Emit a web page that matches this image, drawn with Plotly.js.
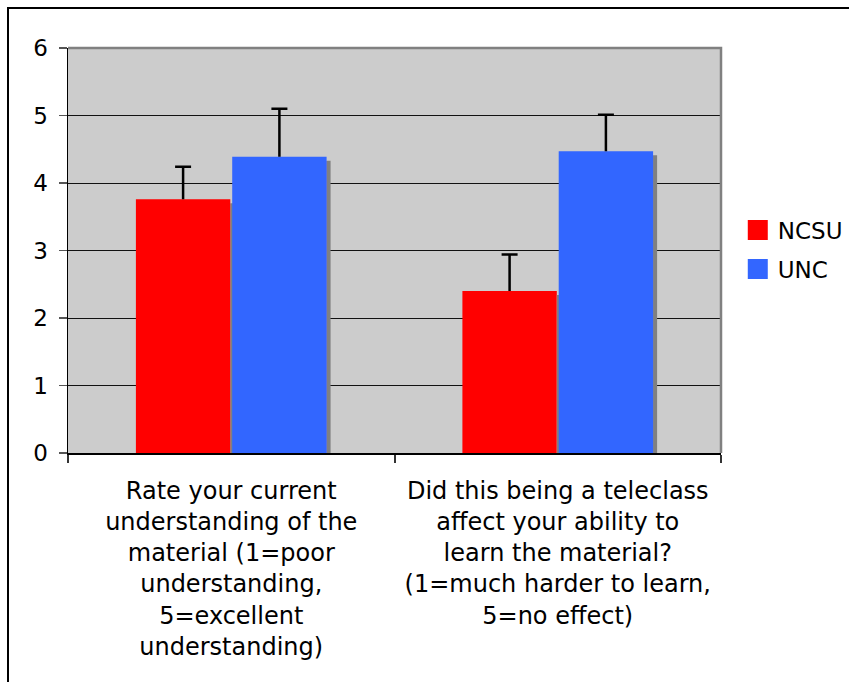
<!DOCTYPE html>
<html>
<head>
<meta charset="utf-8">
<script src="https://cdn.plot.ly/plotly-3.0.1.min.js"></script>
<style>
  html, body { margin:0; padding:0; background:#ffffff; overflow:hidden; }
  #frame { position:absolute; left:7px; top:7px; width:1000px; height:1000px;
           border-left:2px solid #000; border-top:2px solid #000; box-sizing:border-box; }
  #chart { position:absolute; left:0; top:0; width:849px; height:682px; }
</style>
</head>
<body>
<div id="frame"></div>
<div id="chart"></div>
<script>
// ---- data ----
const categories = [
  "Rate your current<br>understanding of the<br>material (1=poor<br>understanding,<br>5=excellent<br>understanding)",
  "Did this being a teleclass<br>affect your ability to<br>learn the material?<br>(1=much harder to learn,<br>5=no effect)"
];
const seriesNames = ["NCSU", "UNC"];
const ncsuValues = [3.76, 2.40];
const ncsuErrors = [0.48, 0.54];
const uncValues  = [4.39, 4.47];
const uncErrors  = [0.71, 0.54];
const yTickVals = [0, 1, 2, 3, 4, 5, 6];

const FONT = "DejaVu Sans, Verdana, sans-serif";

function errObj(arr) {
  return { type:"data", symmetric:false, array:arr, arrayminus:arr.map(()=>0),
           color:"#000000", thickness:2.5, width:8 };
}

const traces = [
  { type:"bar", name:seriesNames[0], legendgroup:"g0", x:categories, y:ncsuValues,
    marker:{ color:"#FF0000", line:{ width:0 } }, error_y: errObj(ncsuErrors) },
  { type:"bar", name:seriesNames[1], legendgroup:"g1", x:categories, y:uncValues,
    marker:{ color:"#3366FF", line:{ width:0 } }, error_y: errObj(uncErrors) }
];

const layout = {
  width:849, height:682,
  margin:{ l:68, r:128, t:48, b:229, autoexpand:false },
  paper_bgcolor:"rgba(0,0,0,0)",
  plot_bgcolor:"#CCCCCC",
  font:{ family:FONT, size:24, color:"#000000" },
  barmode:"group",
  bargap:0.41,
  bargroupgap:0.02,
  showlegend:true,
  legend:{ xref:"container", yref:"container", x:0.869, y:0.634, xanchor:"left", yanchor:"middle",
           font:{ family:FONT, size:23, color:"#000" }, bgcolor:"rgba(0,0,0,0)",
           itemwidth:30, tracegroupgap:6 },
  xaxis:{ type:"category", showgrid:false, showline:true, linecolor:"#000", linewidth:2,
          ticks:"outside", tickson:"boundaries", ticklen:8, tickwidth:2, tickcolor:"#333",
          tickfont:{ family:FONT, size:24, color:"#000" }, ticklabelstandoff:15,
          zeroline:false, fixedrange:true },
  yaxis:{ range:[0,6], tickvals:yTickVals, showgrid:true, gridcolor:"#111", gridwidth:1,
          showline:true, linecolor:"#000", linewidth:1.5, ticks:"outside", ticklen:8,
          tickwidth:1.5, tickcolor:"#555", tickfont:{ family:FONT, size:23, color:"#000" },
          ticklabelstandoff:6, zeroline:false, fixedrange:true },
  shapes:[
    { type:"path", xref:"paper", yref:"paper", path:"M 0 1 L 1 1 L 1 0",
      line:{ color:"#808080", width:2.5 }, layer:"above" }
  ]
};

Plotly.newPlot("chart", traces, layout, { staticPlot:true, displayModeBar:false }).then(gd => {
  const svg = gd.querySelector("svg.main-svg");
  const ns = "http://www.w3.org/2000/svg";
  let defs = svg.querySelector("defs");
  const f = document.createElementNS(ns, "filter");
  f.setAttribute("id", "barshadow");
  f.setAttribute("x", "-20%"); f.setAttribute("y", "-20%");
  f.setAttribute("width", "140%"); f.setAttribute("height", "140%");
  f.innerHTML = '<feFlood flood-color="#808080" result="c"/>' +
    '<feComposite in="c" in2="SourceAlpha" operator="in" result="s"/>' +
    '<feOffset in="s" dx="4" dy="4" result="o"/>' +
    '<feMerge><feMergeNode in="o"/><feMergeNode in="SourceGraphic"/></feMerge>';
  defs.appendChild(f);
  gd.querySelectorAll(".trace.bars .point path").forEach(p => p.setAttribute("filter", "url(#barshadow)"));
  gd.querySelectorAll(".errorbar path.yerror").forEach(p => {
    const d = p.getAttribute("d");
    p.setAttribute("d", d.replace(/m-[\d.]+,0h[\d.]+\s*$/, ""));
  });
  gd.querySelectorAll(".legend .legendpoints path").forEach(p => {
    p.setAttribute("d", "M-10,-10H10V10H-10Z");
    p.style.strokeWidth = "0";
  });
});
</script>
</body>
</html>
